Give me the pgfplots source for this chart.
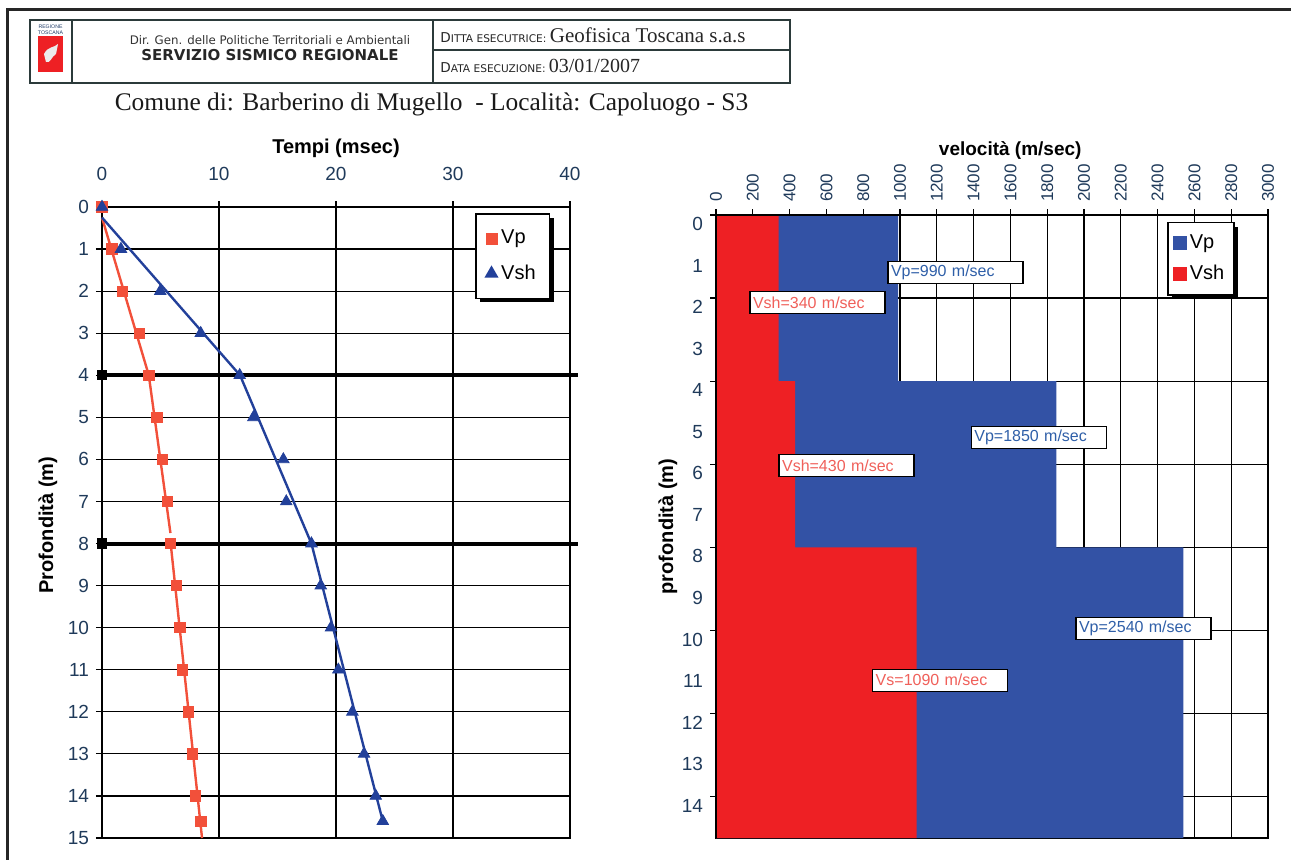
\documentclass[border=0pt]{standalone}
\usepackage{fontspec}
\setmainfont{Liberation Sans}
\newfontfamily\serifx{Liberation Serif}
\newfontfamily\dejavu{DejaVu Sans}
\usepackage{pgfplots}
\pgfplotsset{compat=1.18}
\usetikzlibrary{shadows}
\definecolor{tickc}{HTML}{1F3A5A}
\definecolor{redl}{HTML}{F2503A}
\definecolor{bluel}{HTML}{22409A}
\definecolor{redf}{HTML}{EE2024}
\definecolor{bluef}{HTML}{3352A5}
\definecolor{redt}{HTML}{F0605A}
\definecolor{bluet}{HTML}{2F5FA8}
\definecolor{framec}{HTML}{2B3A3A}
\tikzset{lab/.style={draw=black, fill=white, line width=0.7pt, inner xsep=1.5pt, inner ysep=0pt,
  anchor=north west, text width=64.5pt, minimum height=11pt, align=left,
  font=\fontsize{8}{9}\selectfont}}
\begin{document}
\begin{tikzpicture}
\useasboundingbox (0,0) rectangle (645.5pt,-429.5pt);
% outer frame
\draw[line width=1.5pt, black!85] (3.5pt,-430pt) -- (3.5pt,-4.5pt) -- (646pt,-4.5pt);
% header table
\draw[line width=0.8pt, framec] (15pt,-10pt) rectangle (395pt,-41.5pt);
\draw[line width=0.8pt, framec] (36pt,-10pt) -- (36pt,-41.5pt);
\draw[line width=0.8pt, framec] (216.5pt,-10pt) -- (216.5pt,-41.5pt);
\draw[line width=0.8pt, framec] (216.5pt,-25pt) -- (395pt,-25pt);
% logo
\fill[redf] (19pt,-18pt) rectangle (31.5pt,-36pt);
\fill[white!85!gray] (22pt,-27pt) .. controls (24pt,-23pt) and (27pt,-24pt) .. (29pt,-22pt) -- (28pt,-27pt) .. controls (26pt,-28pt) and (25pt,-32pt) .. (23pt,-31pt) -- cycle;
\node[font=\fontsize{2.6}{2.8}\selectfont, align=center, text=bluet!60!black, inner sep=0pt] at (25.25pt,-14.8pt) {REGIONE\\TOSCANA};
\node[font=\dejavu\fontsize{5.9}{7}\selectfont, text=black!80, inner sep=0pt] at (135pt,-20pt) {Dir. Gen. delle Politiche Territoriali e Ambientali};
\node[font=\dejavu\bfseries\fontsize{7.5}{9}\selectfont, text=black!85, inner sep=0pt] at (135pt,-27.5pt) {SERVIZIO SISMICO REGIONALE};
\node[anchor=west, inner sep=0pt, text=black!85] at (220pt,-17.5pt) {{\dejavu\fontsize{6.8}{7}\selectfont D\fontsize{5.3}{6}\selectfont ITTA ESECUTRICE:}{\serifx\fontsize{10.5}{12}\selectfont\,Geofisica Toscana s.a.s}};
\node[anchor=west, inner sep=0pt, text=black!85] at (220pt,-33pt) {{\dejavu\fontsize{6.8}{7}\selectfont D\fontsize{5.3}{6}\selectfont ATA ESECUZIONE:}{\serifx\fontsize{10}{12}\selectfont\,03/01/2007}};
% title
\node[font=\serifx\fontsize{12.7}{14}\selectfont, text=black!90, inner sep=0pt] at (215.75pt,-52pt) {Comune di: Barberino di Mugello \ - Località: Capoluogo - S3};

% ---------------- left chart
\begin{axis}[
  at={(51pt,-103.5pt)}, anchor=north west, scale only axis,
  width=234pt, height=315.5pt,
  xmin=0, xmax=40, ymin=0, ymax=15, y dir=reverse,
  xtick={0,10,...,40}, ytick={0,1,...,15},
  xticklabel pos=top, xtick pos=right, ytick pos=left,
  /pgf/number format/assume math mode=true,
  grid=major, major grid style={black, line width=0.6pt},
  axis line style={black, line width=0.6pt},
  tick align=outside, major tick length=3pt, tick style={black, line width=0.6pt},
  ticklabel style={font=\fontsize{9.5}{11}\selectfont, text=tickc},
  xticklabel style={yshift=6.5pt},
  xlabel={Tempi (msec)},
  xlabel style={at={(axis description cs:0.5,1.0935)}, anchor=center, font=\fontsize{10}{12}\selectfont\bfseries},
  ylabel={Profondità (m)},
  ylabel style={at={(axis description cs:-0.1154,0.496)}, anchor=center, font=\fontsize{10}{12}\selectfont\bfseries},
  clip=false,
  legend style={at={(0.797,0.990)}, anchor=north west, draw=black, line width=0.8pt, fill=white,
    font=\fontsize{10}{12}\selectfont, inner xsep=5pt, inner ysep=6pt, row sep=5pt,
    drop shadow={shadow xshift=2pt, shadow yshift=-2pt, fill=black, opacity=1}},
  legend cell align=left,
]
% fitted lines
\addplot[redl, line width=1.2pt, forget plot] coordinates {(0,0.25) (4.0,4.0) (5.85,7.75)};
\addplot[redl, line width=1.2pt, forget plot] coordinates {(5.87,8.0) (8.55,15)};
\addplot[bluel, line width=1.2pt, forget plot] coordinates {(0,0.25) (11.8,4.0) (17.9,8.0) (24.0,14.6)};
% boundary lines
\addplot[black, line width=2pt, mark=square*, mark size=1.6pt, mark indices={1}, forget plot] coordinates {(0,4) (40.7,4)};
\addplot[black, line width=2pt, mark=square*, mark size=1.6pt, mark indices={1}, forget plot] coordinates {(0,8) (40.7,8)};
% data points
\addplot[only marks, mark=square*, mark size=2.6pt, color=redl] coordinates {
(0,0) (0.83,1) (1.74,2) (3.18,3) (4.0,4) (4.68,5) (5.14,6) (5.57,7) (5.87,8) (6.36,9) (6.67,10) (6.88,11) (7.40,12) (7.71,13) (7.98,14) (8.44,14.6)};
\addlegendentry{Vp}
\addplot[only marks, mark=triangle*, mark size=3.3pt, color=bluel] coordinates {
(0,0) (1.62,1) (4.98,2) (8.44,3) (11.77,4) (12.94,5) (15.5,6) (15.75,7) (17.9,8) (18.7,9) (19.57,10) (20.2,11) (21.4,12) (22.4,13) (23.4,14) (24.0,14.6)};
\addlegendentry{Vsh}
\end{axis}

% ---------------- right chart
\begin{axis}[
  at={(358pt,-107.5pt)}, anchor=north west, scale only axis,
  width=276pt, height=311.5pt,
  xmin=0, xmax=3000, ymin=0, ymax=15, y dir=reverse,
  xtick={0,200,...,3000}, xticklabel pos=top, xtick pos=right, ytick pos=left,
  /pgf/number format/1000 sep={},
  /pgf/number format/assume math mode=true,
  ytick={0.22,1.22,2.22,3.22,4.22,5.22,6.22,7.22,8.22,9.22,10.22,11.22,12.22,13.22,14.22},
  yticklabels={0,1,2,3,4,5,6,7,8,9,10,11,12,13,14},
  ytick style={draw=none},
  extra y ticks={0,2,4,6,8,10,12,14},
  extra y tick labels={},
  extra y tick style={grid=major, every y tick/.style={draw=black, line width=0.6pt}},
  xmajorgrids, major grid style={black, line width=0.6pt},
  axis line style={black, line width=0.6pt},
  tick align=outside, major tick length=3pt, tick style={black, line width=0.6pt},
  ticklabel style={text=tickc},
  yticklabel style={font=\fontsize{9.5}{11}\selectfont},
  xticklabel style={font=\fontsize{8.5}{10}\selectfont, rotate=90, anchor=west},
  xlabel={velocità (m/sec)},
  xlabel style={at={(axis description cs:0.533,1.104)}, anchor=center, font=\fontsize{9.5}{11}\selectfont\bfseries},
  ylabel={profondità (m)},
  ylabel style={at={(axis description cs:-0.087,0.5)}, anchor=center, font=\fontsize{10}{12}\selectfont\bfseries},
  clip=false,
  legend style={at={(0.817,0.989)}, anchor=north west, draw=black, line width=0.8pt, fill=white,
    font=\fontsize{10}{12}\selectfont, inner xsep=3pt, inner ysep=4pt, row sep=3pt,
    drop shadow={shadow xshift=2pt, shadow yshift=-2pt, fill=black, opacity=1}},
  legend cell align=left,
  legend image code/.code={\draw[#1] plot coordinates {(0.15cm,0cm)};},
]
\addlegendimage{only marks, mark=square*, mark size=3pt, color=bluef}
\addlegendentry{Vp}
\addlegendimage{only marks, mark=square*, mark size=3pt, color=redf}
\addlegendentry{Vsh}
\addplot[fill=bluef, draw=none, forget plot] coordinates {(0,0) (990,0) (990,4) (1850,4) (1850,8) (2540,8) (2540,15) (0,15)};
\addplot[fill=redf, draw=none, forget plot] coordinates {(0,0) (340,0) (340,4) (430,4) (430,8) (1090,8) (1090,15) (0,15)};
\draw[black, line width=0.6pt] (axis cs:0,15) -- (axis cs:0,0) -- (axis cs:3000,0);
\node[lab, text=bluet] at (axis cs:931,1.1) {Vp=990 m/sec};
\node[lab, text=redt] at (axis cs:181,1.82) {Vsh=340 m/sec};
\node[lab, text=bluet] at (axis cs:1384,5.08) {Vp=1850 m/sec};
\node[lab, text=redt] at (axis cs:339,5.75) {Vsh=430 m/sec};
\node[lab, text=bluet] at (axis cs:1953,9.68) {Vp=2540 m/sec};
\node[lab, text=redt] at (axis cs:848,10.92) {Vs=1090 m/sec};
\end{axis}
\end{tikzpicture}
\end{document}
